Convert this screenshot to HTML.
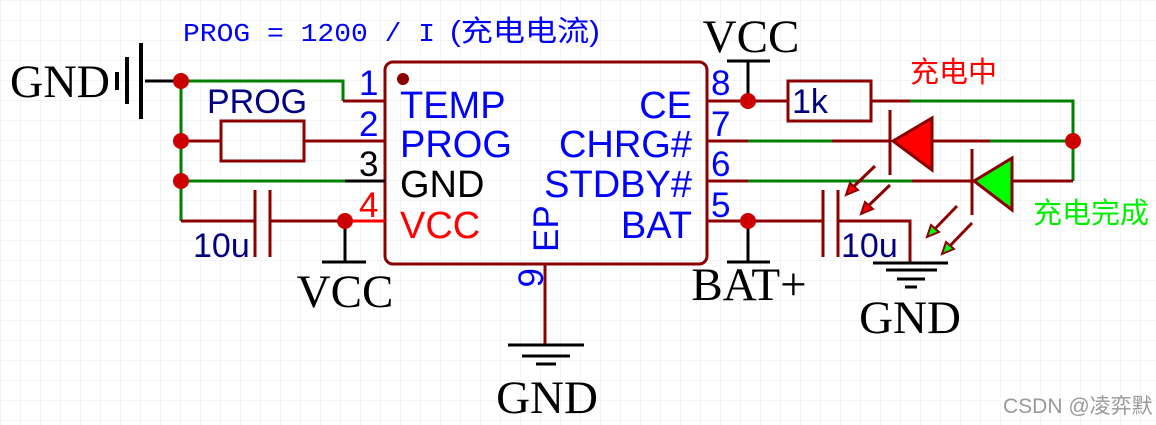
<!DOCTYPE html>
<html><head><meta charset="utf-8"><style>
html,body{margin:0;padding:0;background:#fff}
svg{display:block}
</style></head><body>
<svg width="1156" height="425" xmlns="http://www.w3.org/2000/svg">
<defs>
<pattern id="g" width="20" height="20" patternUnits="userSpaceOnUse" x="1" y="1">
<path d="M20 0V20M0 20H20" fill="none" stroke="#e8e8e8" stroke-width="1"/>
</pattern>
</defs>
<rect width="1156" height="425" fill="#fff"/>
<rect width="1156" height="425" fill="url(#g)"/>

<text x="183" y="41" font-size="26" fill="#0000ff" font-family="Liberation Mono, monospace" textLength="252" lengthAdjust="spacingAndGlyphs">PROG = 1200 / I</text>
<text x="450" y="41" font-size="29" fill="#0000ff" font-family="Liberation Sans, Noto Sans CJK SC, sans-serif" textLength="150" lengthAdjust="spacingAndGlyphs">(充电电流)</text>

<rect x="385" y="62" width="322" height="202" rx="8" fill="none" stroke="#8b0000" stroke-width="3"/>
<circle cx="403" cy="79" r="6" fill="#8b0000"/>

<g stroke-width="3" fill="none">
<path d="M145 81H181" stroke="#000"/>
<path d="M141 43V119M127 57V104M117 72V90" stroke="#000" stroke-width="4"/>
<path d="M181 81H343V101" stroke="#008000"/>
<path d="M343 101H385" stroke="#8b0000"/>
<path d="M181 81V221" stroke="#008000"/>
<path d="M181 141H221M304 141H385" stroke="#8b0000"/>
<rect x="221" y="121" width="83" height="40" stroke="#8b0000"/>
<path d="M181 181H345" stroke="#008000"/>
<path d="M345 181H385" stroke="#000"/>
<path d="M181 221H255M270 221H345" stroke="#8b0000"/>
<path d="M255 190V257M270 190V257" stroke="#8b0000"/>
<path d="M345 221H385" stroke="#ff0000"/>
<path d="M345 221V262M322 262H366" stroke="#000"/>
<path d="M545 264V345" stroke="#8b0000"/>
<path d="M508 345H584M522 356H570M536 364H556" stroke="#000"/>
<path d="M707 101H788M871 101H910" stroke="#8b0000"/>
<rect x="788" y="81" width="83" height="40" stroke="#8b0000"/>
<path d="M910 101H1073V181" stroke="#008000"/>
<path d="M748 101V61M727 61H770" stroke="#000"/>
<path d="M707 141H748M832 141H890M932 141H990" stroke="#8b0000"/>
<path d="M748 141H832M990 141H1073" stroke="#008000"/>
<path d="M707 181H748M912 181H972M1012 181H1073" stroke="#8b0000"/>
<path d="M748 181H912" stroke="#008000"/>
<path d="M707 221H823M838 221H910V262" stroke="#8b0000"/>
<path d="M823 190V257M838 190V257" stroke="#8b0000"/>
<path d="M748 221V262M727 262H770" stroke="#000"/>
<path d="M873 263H948M886 270H937M897 279H925M905 287H917" stroke="#000"/>
<path d="M890 110V175" stroke="#8b0000"/>
<path d="M893 141L932 118V170Z" fill="#ff0000" stroke="#8b0000"/>
<path d="M972 149V215" stroke="#8b0000"/>
<path d="M974 181L1012 158V210Z" fill="#00ff00" stroke="#8b0000"/>
<path d="M875 166L848 192M890 185L863 211" stroke="#8b0000"/>
<path d="M957 206L929 235M972 223L944 252" stroke="#8b0000"/>
</g>
<g stroke="#8b0000" stroke-width="2">
<path d="M846 195L850 183L858 190Z" fill="#ff0000"/>
<path d="M861 214L865 202L873 209Z" fill="#ff0000"/>
<path d="M927 237L931 225L939 232Z" fill="#00ff00"/>
<path d="M942 254L946 242L954 249Z" fill="#00ff00"/>
</g>
<g fill="#cc0000">
<circle cx="181" cy="81" r="8"/><circle cx="181" cy="141" r="8"/><circle cx="181" cy="181" r="8"/>
<circle cx="345" cy="221" r="8"/><circle cx="748" cy="101" r="8"/><circle cx="748" cy="221" r="8"/>
<circle cx="1073" cy="141" r="8"/>
</g>

<g font-family="Liberation Serif, serif" font-size="47" fill="#000">
<text x="10" y="97" textLength="100" lengthAdjust="spacingAndGlyphs">GND</text>
<text x="345" y="307" text-anchor="middle">VCC</text>
<text x="547" y="413" text-anchor="middle">GND</text>
<text x="751" y="52" text-anchor="middle">VCC</text>
<text x="749" y="300" text-anchor="middle">BAT+</text>
<text x="910" y="333" text-anchor="middle">GND</text>
</g>

<g font-family="Liberation Sans, sans-serif" font-size="38">
<text x="400" y="118" fill="#0000ff">TEMP</text>
<text x="400" y="157" fill="#0000ff">PROG</text>
<text x="400" y="197" fill="#000">GND</text>
<text x="400" y="238" fill="#ff0000">VCC</text>
<g text-anchor="end" fill="#0000ff">
<text x="692" y="118">CE</text>
<text x="692" y="157">CHRG#</text>
<text x="692" y="197">STDBY#</text>
<text x="692" y="238">BAT</text>
</g>
<text transform="translate(558,252) rotate(-90)" fill="#0000ff" font-size="35">EP</text>
<g font-size="35">
<text x="359" y="95" fill="#0000ff">1</text>
<text x="359" y="136" fill="#0000ff">2</text>
<text x="359" y="176" fill="#000">3</text>
<text x="359" y="217" fill="#ff0000">4</text>
<text x="711" y="95" fill="#0000ff">8</text>
<text x="711" y="136" fill="#0000ff">7</text>
<text x="711" y="176" fill="#0000ff">6</text>
<text x="711" y="217" fill="#0000ff">5</text>
<text transform="translate(543,268) rotate(-90)" fill="#0000ff" text-anchor="end">9</text>
</g>
<g fill="#000080" font-size="34">
<text x="207" y="113">PROG</text>
<text x="193" y="257">10u</text>
<text x="841" y="257">10u</text>
<text x="792" y="113">1k</text>
</g>
</g>
<g font-family="Liberation Sans, Noto Sans CJK SC, sans-serif" font-size="29">
<text x="910" y="82" fill="#ff0000">充电中</text>
<text x="1033" y="223" fill="#00ee00">充电完成</text>
<text x="1003" y="413" fill="#999" font-size="21">CSDN @凌弈默</text>
</g>
</svg>
</body></html>
